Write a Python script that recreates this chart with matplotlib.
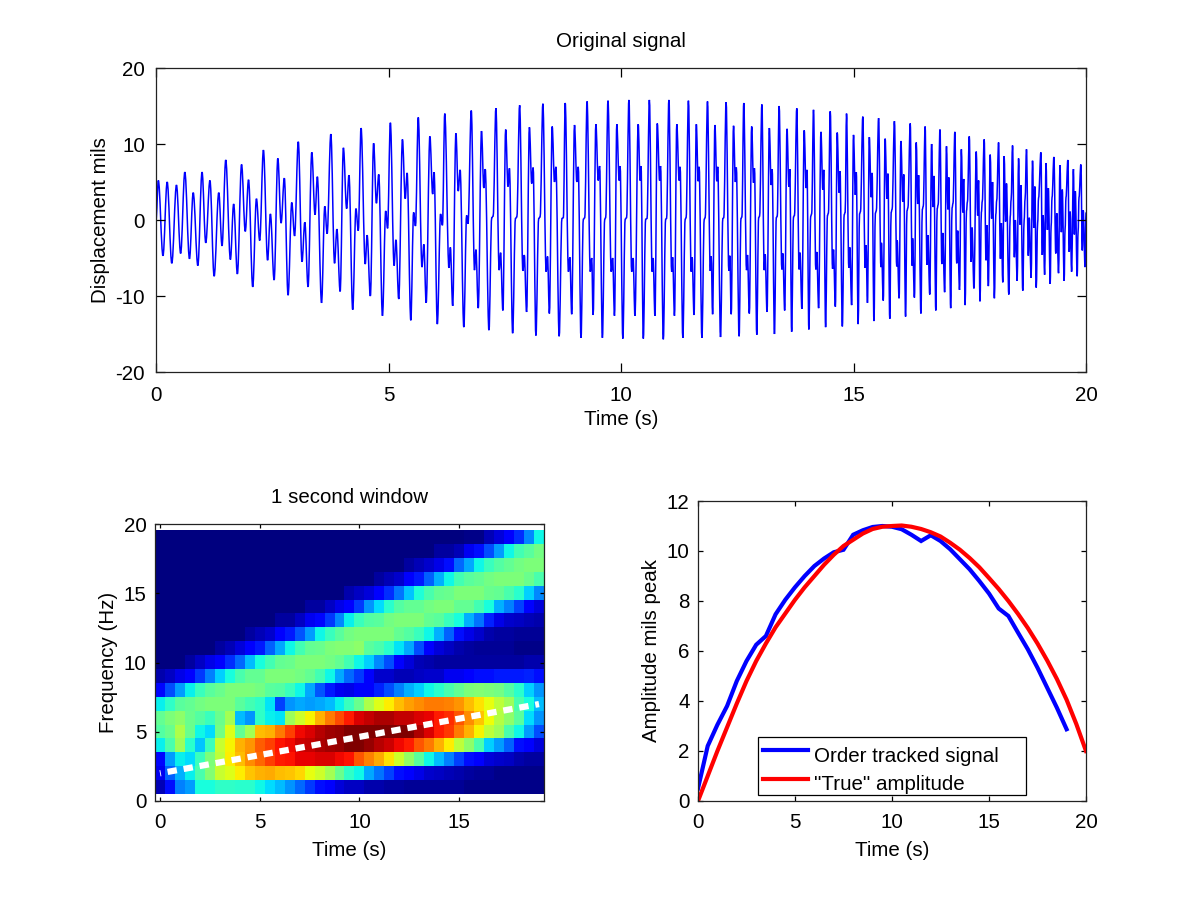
#!/usr/bin/env python3
"""Order tracking figure: raw signal, 1 second window spectrogram, tracked amplitude."""

import matplotlib

matplotlib.use("Agg")
import matplotlib.pyplot as plt
import numpy as np
from matplotlib.patches import PathPatch
from matplotlib.path import Path

plt.rcParams.update(
    {
        "font.family": ["Liberation Sans", "DejaVu Sans"],
        "font.size": 14.8,
        "axes.linewidth": 0.9,
        "axes.edgecolor": "#222222",
        "axes.unicode_minus": False,
        "xtick.direction": "in",
        "ytick.direction": "in",
        "xtick.top": True,
        "ytick.right": True,
        "axes.titlesize": 14.8,
    }
)

# signal turning points, one pair of lists
sig_t = [
    0, .05, .15, .24, .34, .44, .53, .62, .72, .80, .90, .99, 1.07, 1.16, 1.25, 1.35, 1.42, 1.50, 1.60, 1.67,
    1.75, 1.84, 1.92, 1.99, 2.08, 2.16, 2.23, 2.31, 2.40, 2.46, 2.54, 2.62, 2.69, 2.76, 2.84, 2.92, 2.98, 3.06,
    3.14, 3.20, 3.27, 3.35, 3.42, 3.47, 3.56, 3.63, 3.68, 3.76, 3.84, 3.89, 3.96, 4.03, 4.10, 4.15, 4.23, 4.30,
    4.35, 4.41, 4.50, 4.54, 4.61, 4.68, 4.74, 4.79, 4.87, 4.94, 4.98, 5.04, 5.12, 5.16, 5.22, 5.30, 5.36, 5.40,
    5.48, 5.54, 5.58, 5.64, 5.72, 5.76, 5.81, 5.89, 5.95, 5.98, 6.05, 6.12, 6.16, 6.21, 6.30, 6.33, 6.38, 6.45,
    6.50, 6.54,
    6.62, 6.68, 6.71, 6.78, 6.85, 6.88, 6.93, 7.00, 7.05, 7.08,
    7.16, 7.22, 7.25, 7.31, 7.38, 7.41, 7.46, 7.52, 7.57, 7.60,
    7.67, 7.73, 7.76, 7.82, 7.89, 7.92, 7.97, 8.03, 8.08, 8.11,
    8.17, 8.23, 8.26, 8.32, 8.39, 8.42, 8.46, 8.52, 8.57, 8.60,
    8.67, 8.73, 8.76, 8.80, 8.87, 8.90, 8.94, 9.00, 9.05, 9.08,
    9.14, 9.19, 9.22, 9.27, 9.34, 9.37, 9.40, 9.46, 9.51, 9.54,
    9.60, 9.65, 9.67, 9.72, 9.79, 9.82, 9.86, 9.91, 9.96, 9.98,
    10.04, 10.09, 10.12, 10.17, 10.23, 10.26, 10.30, 10.37, 10.41, 10.43,
    10.48, 10.53, 10.56, 10.61, 10.67, 10.69, 10.73, 10.78, 10.83, 10.85,
    10.91, 10.96, 10.98, 11.03, 11.09, 11.11, 11.15, 11.20, 11.25, 11.27,
    11.33, 11.38, 11.40, 11.45, 11.51, 11.53, 11.57, 11.62, 11.66, 11.68,
    11.74, 11.79, 11.81, 11.86, 11.92, 11.94, 11.97, 12.02, 12.06, 12.08,
    12.14, 12.19, 12.21, 12.26, 12.32, 12.34, 12.37, 12.42, 12.46, 12.48,
    12.54, 12.58, 12.60, 12.64, 12.70, 12.72, 12.76, 12.81, 12.85, 12.87,
    12.92, 12.96, 12.98, 13.03, 13.08, 13.10, 13.14, 13.19, 13.23, 13.25,
    13.30, 13.34, 13.36, 13.40, 13.46, 13.48, 13.52, 13.57, 13.61, 13.63,
    13.67, 13.71, 13.73, 13.78, 13.83, 13.85, 13.89, 13.94, 13.98, 14.00,
    14.04, 14.08, 14.10, 14.14, 14.19, 14.21, 14.25, 14.30, 14.34, 14.36,
    14.40, 14.44, 14.46, 14.50, 14.55, 14.57, 14.61, 14.65, 14.69, 14.71,
    14.76, 14.80, 14.82, 14.85, 14.90, 14.92, 14.96, 15.00, 15.04, 15.06,
    15.10, 15.13, 15.15, 15.20, 15.25, 15.27, 15.30, 15.34, 15.38, 15.40,
    15.44, 15.47, 15.49, 15.54, 15.59, 15.60, 15.64, 15.68, 15.72, 15.74,
    15.78, 15.81, 15.83, 15.88, 15.93, 15.94, 15.98, 16.02, 16.06, 16.08,
    16.12, 16.15, 16.17, 16.22, 16.26, 16.27, 16.31, 16.35, 16.38, 16.40,
    16.45, 16.48, 16.50, 16.54, 16.58, 16.60, 16.64, 16.68, 16.71, 16.73,
    16.77, 16.80, 16.82, 16.86, 16.90, 16.92, 16.96, 17.00, 17.03, 17.05,
    17.09, 17.12, 17.14, 17.18, 17.22, 17.24, 17.28, 17.32, 17.35, 17.37,
    17.40, 17.43, 17.45, 17.49, 17.53, 17.55, 17.59, 17.64, 17.67, 17.69,
    17.72, 17.75, 17.77, 17.81, 17.85, 17.87, 17.90, 17.94, 17.97, 17.99,
    18.03, 18.06, 18.08, 18.12, 18.16, 18.18, 18.21, 18.24, 18.27, 18.29,
    18.34, 18.37, 18.39, 18.42, 18.46, 18.48, 18.52, 18.55, 18.58, 18.60,
    18.64, 18.67, 18.69, 18.72, 18.76, 18.78, 18.82, 18.85, 18.88, 18.90,
    18.93, 18.96, 18.98, 19.03, 19.06, 19.08, 19.11, 19.14, 19.17, 19.19,
    19.23, 19.25, 19.27, 19.31, 19.35, 19.37, 19.41, 19.44, 19.47, 19.49,
    19.53, 19.55, 19.57, 19.61, 19.64, 19.66, 19.69, 19.73, 19.75, 19.77,
    19.81, 19.83, 19.85, 19.89, 19.92, 19.94, 19.98, 20.0,
]
sig_v = [
    0, 5.2, -4.7, 5.0, -5.7, 4.6, -4.4, 6.3, -5.1, 3.6, -6.0, 6.3, -3.0, 5.2, -7.4, 3.6, -3.4, 7.9, -5.2, 2.1,
    -7.1, 7.3, -1.5, 5.3, -8.8, 2.8, -2.7, 9.2, -5.3, 0.8, -7.9, 8.1, -0.4, 5.5, -9.9, 2.3, -2.1, 10.3,
    -5.5, -0.3, -8.8, 8.9, 0.7, 5.7, -10.9, 1.8, -1.8, 11.3, -5.7, -1.2, -9.4, 9.5, 1.5, 5.9, -11.8, 1.5,
    -1.4, 12.1, -5.8, -2.0, -10.0, 10.1, 2.2, 6.0, -12.6, 1.2, -1.1, 12.8, -6.0, -2.6, -10.4, 10.6, 2.8, 6.2,
    -13.2, 1.0, -0.8, 13.5, -6.2, -3.2, -10.9, 11.0, 3.4, 6.3, -13.7, 0.8, -0.7, 14.0, -6.3, -3.6, -11.3, 11.4,
    3.8, 6.6,
    -14.1, 0.6, -0.5, 14.4, -6.6, -3.9, -11.6, 11.7, 4.2, 6.7,
    -14.5, 0.3, 0.5, 14.7, -6.6, -4.3, -11.9, 11.9, 4.4, 6.8,
    -14.9, 0.2, 0.4, 15.1, -6.7, -4.6, -12.1, 12.2, 4.8, 6.9,
    -15.2, 0.2, 0.4, 15.3, -6.8, -4.8, -12.3, 12.3, 5.0, 7.0,
    -15.3, 0.2, 0.3, 15.4, -6.8, -4.9, -12.4, 12.5, 5.0, 7.0,
    -15.5, 0.1, 0.3, 15.6, -6.8, -5.0, -12.5, 12.6, 5.2, 7.1,
    -15.5, 0.1, 0.3, 15.7, -6.8, -5.0, -12.6, 12.6, 5.2, 7.1,
    -15.6, 0.1, 0.3, 15.8, -6.8, -5.0, -12.6, 12.6, 5.2, 7.1,
    -15.6, 0.1, 0.2, 15.8, -6.8, -5.0, -12.6, 12.7, 5.2, 7.1,
    -15.7, 0.1, 0.2, 15.8, -6.8, -4.9, -12.6, 12.6, 5.2, 7.0,
    -15.5, 0.1, 0.3, 15.7, -6.8, -4.9, -12.5, 12.6, 5.1, 7.0,
    -15.5, 0.1, 0.3, 15.6, -6.7, -4.8, -12.4, 12.5, 5.1, 7.0,
    -15.4, 0.2, 0.3, 15.5, -6.7, -4.7, -12.4, 12.4, 5.0, 6.9,
    -15.3, 0.2, 0.4, 15.4, -6.6, -4.6, -12.3, 12.3, 4.9, 6.8,
    -15.1, 0.3, 0.5, 15.2, -6.6, -4.5, -12.1, 12.1, 4.6, 6.7,
    -15.0, 0.3, 0.5, 15.0, -6.5, -4.4, -11.9, 12.0, 4.4, 6.7,
    -14.7, 0.4, 0.6, 14.7, -6.5, -4.3, -11.7, 11.8, 4.2, 6.6,
    -14.4, 0.5, 0.8, 14.5, -6.5, -4.2, -11.6, 11.6, 4.0, 6.6,
    -14.1, 0.6, 0.9, 14.3, -6.4, -3.9, -11.4, 11.5, 3.6, 6.4,
    -14.0, 0.7, 1.0, 14.0, -6.3, -3.6, -11.2, 11.2, 3.3, 6.3,
    -13.7, 0.8, 1.1, 13.6, -6.3, -3.3, -10.9, 10.9, 3.0, 6.2,
    -13.3, 0.9, 1.2, 13.4, -6.2, -3.0, -10.6, 10.7, 2.8, 6.1,
    -13.0, 1.0, 1.4, 13.0, -6.1, -2.7, -10.3, 10.4, 2.4, 6.0,
    -12.7, 1.2, 1.6, 12.7, -6.0, -2.4, -10.2, 10.2, 2.1, 5.9,
    -12.3, 1.4, 1.8, 12.3, -5.9, -2.0, -9.8, 10.0, 1.7, 5.8,
    -11.9, 1.5, 2.0, 11.9, -5.8, -1.7, -9.5, 9.7, 1.4, 5.6,
    -11.6, 1.6, 2.2, 11.6, -5.7, -1.4, -9.2, 9.3, 1.0, 5.4,
    -11.2, 1.2, 2.4, 11.0, -5.5, -1.0, -9.0, 9.0, 0.6, 5.2,
    -10.7, 1.0, 2.5, 10.6, -5.3, -0.7, -8.7, 8.6, 0.2, 5.0,
    -10.3, 0.7, 2.6, 10.2, -5.1, -0.4, -8.2, 8.4, -0.2, 4.8,
    -9.8, 0.4, 2.7, 9.8, -4.9, 0.0, -8.0, 8.1, -0.6, 4.6,
    -9.3, 0.0, 2.8, 9.3, -4.7, 0.3, -7.6, 7.8, -1.0, 4.4,
    -8.9, -0.4, 2.9, 8.9, -4.6, 0.6, -7.2, 7.5, -1.3, 4.2,
    -8.4, -0.8, 3.0, 8.3, -4.4, 0.9, -7.0, 7.2, -1.6, 4.0,
    -8.0, -1.2, 3.0, 7.9, -4.2, 1.1, -6.8, 6.7, -1.9, 3.8,
    -7.4, -1.5, 3.0, 7.3, -4.0, 1.3, -6.2, 1.0,
]

# spectrogram, 0 to 100 on the colour scale, lowest frequency row first
spec_rows = [
    [5, 14, 25, 28, 38, 38, 41, 41, 40, 40, 37, 34, 31, 27, 23, 18, 14, 11, 8, 6,
     6, 4, 4, 3, 3, 2, 2, 2, 2, 2, 2, 1, 1, 1, 1, 1, 1, 1, 1],
    [10, 22, 30, 36, 44, 51, 59, 62, 66, 70, 72, 73, 71, 70, 68, 63, 60, 55, 48, 41,
     37, 29, 24, 19, 14, 11, 9, 7, 6, 5, 4, 3, 2, 2, 1, 1, 1, 1, 1],
    [13, 28, 36, 34, 42, 50, 58, 66, 71, 76, 80, 84, 88, 89, 91, 91, 92, 92, 90, 89,
     82, 77, 73, 67, 60, 53, 46, 37, 31, 25, 19, 14, 11, 8, 7, 6, 4, 3, 3],
    [36, 44, 54, 40, 32, 42, 59, 65, 72, 75, 81, 84, 89, 90, 93, 94, 96, 97, 98, 100,
     100, 98, 95, 93, 90, 88, 82, 78, 72, 66, 58, 52, 44, 33, 28, 22, 14, 11, 8],
    [45, 48, 56, 48, 37, 34, 49, 62, 47, 55, 71, 72, 78, 84, 90, 92, 95, 97, 98, 100,
     100, 100, 100, 100, 100, 100, 96, 92, 88, 85, 78, 72, 65, 58, 54, 44, 37, 28, 20],
    [47, 50, 52, 48, 45, 42, 48, 55, 31, 27, 41, 36, 35, 54, 60, 65, 72, 78, 83, 88,
     92, 94, 96, 96, 94, 94, 92, 91, 88, 86, 82, 76, 70, 64, 57, 52, 46, 34, 27],
    [36, 41, 46, 47, 49, 50, 50, 50, 46, 43, 41, 35, 19, 27, 29, 28, 29, 31, 36, 42,
     48, 56, 62, 66, 71, 74, 76, 78, 78, 77, 75, 71, 67, 63, 58, 54, 44, 38, 31],
    [13, 20, 28, 36, 42, 46, 48, 50, 50, 50, 49, 46, 45, 42, 37, 29, 21, 15, 10, 9,
     11, 11, 16, 20, 25, 30, 33, 37, 40, 44, 47, 50, 51, 50, 49, 45, 40, 33, 27],
    [4, 6, 9, 12, 18, 25, 33, 38, 44, 47, 47, 50, 50, 50, 49, 47, 43, 37, 29, 23,
     18, 11, 7, 7, 5, 5, 6, 7, 7, 10, 10, 12, 14, 14, 15, 15, 15, 16, 14],
    [0, 0, 0, 3, 6, 9, 12, 17, 23, 31, 38, 43, 47, 48, 50, 50, 50, 49, 47, 43,
     37, 33, 26, 20, 11, 8, 5, 4, 3, 3, 3, 3, 3, 3, 3, 3, 3, 4, 4],
    [0, 0, 0, 0, 0, 0, 3, 5, 8, 11, 15, 22, 29, 37, 43, 47, 48, 50, 51, 51,
     52, 46, 44, 40, 35, 29, 20, 11, 8, 6, 4, 3, 2, 2, 2, 2, 1, 1, 1],
    [0, 0, 0, 0, 0, 0, 0, 0, 0, 3, 5, 7, 11, 15, 21, 28, 37, 42, 46, 49,
     50, 50, 50, 50, 47, 45, 42, 37, 30, 22, 14, 9, 7, 4, 3, 3, 2, 2, 2],
    [0, 0, 0, 0, 0, 0, 0, 0, 0, 0, 0, 0, 3, 3, 6, 10, 13, 18, 26, 36,
     42, 45, 46, 49, 50, 50, 50, 47, 46, 42, 38, 30, 24, 16, 9, 7, 6, 5, 4],
    [0, 0, 0, 0, 0, 0, 0, 0, 0, 0, 0, 0, 0, 0, 0, 3, 3, 6, 9, 12,
     18, 27, 34, 40, 45, 47, 47, 49, 50, 50, 47, 47, 43, 38, 30, 25, 19, 12, 8],
    [0, 0, 0, 0, 0, 0, 0, 0, 0, 0, 0, 0, 0, 0, 0, 0, 0, 0, 0, 4,
     6, 8, 12, 17, 24, 32, 39, 44, 47, 48, 50, 50, 50, 48, 47, 44, 40, 33, 26],
    [0, 0, 0, 0, 0, 0, 0, 0, 0, 0, 0, 0, 0, 0, 0, 0, 0, 0, 0, 0,
     0, 0, 3, 5, 7, 11, 15, 22, 30, 37, 43, 46, 47, 49, 50, 50, 50, 48, 44],
    [0, 0, 0, 0, 0, 0, 0, 0, 0, 0, 0, 0, 0, 0, 0, 0, 0, 0, 0, 0,
     0, 0, 0, 0, 0, 3, 5, 7, 9, 14, 23, 29, 37, 42, 45, 47, 49, 50, 50],
    [0, 0, 0, 0, 0, 0, 0, 0, 0, 0, 0, 0, 0, 0, 0, 0, 0, 0, 0, 0,
     0, 0, 0, 0, 0, 0, 0, 0, 3, 3, 5, 10, 14, 20, 28, 37, 43, 46, 49],
    [0, 0, 0, 0, 0, 0, 0, 0, 0, 0, 0, 0, 0, 0, 0, 0, 0, 0, 0, 0,
     0, 0, 0, 0, 0, 0, 0, 0, 0, 0, 0, 1, 1, 5, 8, 11, 17, 26, 37],
]

# dashed white speed line over the spectrogram
speed_t = [0, 19]
speed_f = [2, 7]

tracked_t = [
    0, .5, 1, 1.5, 2, 2.5, 3, 3.5, 4, 4.5, 5, 5.5, 6, 6.5, 7, 7.5, 8, 8.5, 9, 9.5,
    10, 10.5, 11, 11.5, 12, 12.5, 13, 13.5, 14, 14.5, 15, 15.5, 16, 16.5, 17, 17.5, 18, 18.5, 19,
]
tracked_amp = [
    0.5, 2.2, 3.05, 3.8, 4.8, 5.6, 6.25, 6.6, 7.47, 8.05, 8.55, 9.0, 9.4, 9.7, 9.95, 10.05, 10.65, 10.83, 10.96, 11.0,
    10.97, 10.87, 10.65, 10.4, 10.63, 10.4, 10.07, 9.67, 9.27, 8.8, 8.3, 7.7, 7.4, 6.73, 6.07, 5.33, 4.53, 3.73, 2.87,
]
true_t = [
    0, .5, 1, 1.5, 2, 2.5, 3, 3.5, 4, 4.5, 5, 5.5, 6, 6.5, 7, 7.5, 8, 8.5, 9, 9.5, 10,
    10.5, 11, 11.5, 12, 12.5, 13, 13.5, 14, 14.5, 15, 15.5, 16, 16.5, 17, 17.5, 18, 18.5, 19, 19.5, 20,
]
true_amp = [
    0, 1.0, 2.0, 2.95, 3.9, 4.8, 5.6, 6.3, 6.95, 7.5, 8.05, 8.55, 9.0, 9.45, 9.85, 10.2, 10.45, 10.7, 10.88, 10.97, 11.0,
    11.02, 10.97, 10.88, 10.75, 10.58, 10.33, 10.05, 9.72, 9.35, 8.92, 8.48, 8.0, 7.48, 6.92, 6.3, 5.62, 4.88, 4.05, 3.08, 2.0,
]

W, H = 1200, 900


def px_axes(fig, left, top, right, bottom):
    return fig.add_axes([left / W, 1 - bottom / H, (right - left) / W, (bottom - top) / H])


def rounded_path(ts, vs):
    # flat tangents at every turning point, so the peaks come out round
    verts = [(ts[0], vs[0])]
    codes = [Path.MOVETO]
    for t0, v0, t1, v1 in zip(ts[:-1], vs[:-1], ts[1:], vs[1:]):
        dt = t1 - t0
        verts += [(t0 + 0.36 * dt, v0), (t1 - 0.36 * dt, v1), (t1, v1)]
        codes += [Path.CURVE4] * 3
    return Path(verts, codes)


def main():
    fig = plt.figure(figsize=(W / 100, H / 100), dpi=100)

    ax = px_axes(fig, 156, 68, 1086, 372)
    ax.add_patch(PathPatch(rounded_path(sig_t, sig_v), facecolor="none", edgecolor="#0000ff", lw=1.1))
    ax.set_xlim(0, 20)
    ax.set_ylim(-20, 20)
    ax.set_xticks([0, 5, 10, 15, 20])
    ax.set_yticks([-20, -10, 0, 10, 20])
    ax.tick_params(length=6.5, width=0.9)
    ax.tick_params(axis="x", pad=10)
    ax.tick_params(axis="y", pad=8)
    ax.set_xlabel("Time (s)", labelpad=4)
    ax.set_ylabel("Displacement mils", labelpad=4)
    ax.set_title("Original signal", pad=15)

    ax = px_axes(fig, 155, 524, 544, 801)
    spec = np.array(spec_rows)
    ax.imshow(
        spec,
        cmap="jet",
        vmin=0,
        vmax=100,
        origin="lower",
        aspect="auto",
        interpolation="nearest",
        extent=(-0.25, 19.25, 0.5, 19.5),
    )
    ax.plot(speed_t, speed_f, color="white", lw=4.5, linestyle=(1.36, (1.5, 1.1)), dash_capstyle="butt")
    ax.set_xlim(-0.25, 19.25)
    ax.set_ylim(0, 20)
    ax.set_xticks([0, 5, 10, 15])
    ax.set_yticks([0, 5, 10, 15, 20])
    ax.tick_params(length=3, width=0.9)
    ax.tick_params(axis="x", pad=9)
    ax.tick_params(axis="y", pad=6)
    ax.set_xlabel("Time (s)", labelpad=6)
    ax.set_ylabel("Frequency (Hz)", labelpad=4)
    ax.set_title("1 second window", pad=15)

    ax = px_axes(fig, 698, 501, 1086, 801)
    ax.plot(tracked_t, tracked_amp, color="#0000ff", lw=3, label="Order tracked signal", solid_joinstyle="miter")
    ax.plot(true_t, true_amp, color="#ff0000", lw=3, label='"True" amplitude')
    ax.set_xlim(0, 20)
    ax.set_ylim(0, 12)
    ax.set_xticks([0, 5, 10, 15, 20])
    ax.set_yticks([0, 2, 4, 6, 8, 10, 12])
    ax.tick_params(length=3.5, width=0.9)
    ax.tick_params(axis="x", pad=9)
    ax.tick_params(axis="y", pad=6)
    ax.set_xlabel("Time (s)", labelpad=6)
    ax.set_ylabel("Amplitude mils peak", labelpad=4)
    leg = ax.legend(
        loc="lower left",
        bbox_to_anchor=((758 - 698) / 388, (801 - 795) / 300, (1026 - 758) / 388, (795 - 737) / 300),
        mode="expand",
        borderaxespad=0,
        fancybox=False,
        framealpha=1,
        edgecolor="black",
        handlelength=2.2,
        handletextpad=0.25,
        labelspacing=0.45,
        borderpad=0.25,
        fontsize=14.8,
    )
    leg.get_frame().set_linewidth(0.9)
    for txt in leg.get_texts():
        txt.set_y(-4)

    fig.savefig("out.png", dpi=100)
    plt.close(fig)


if __name__ == "__main__":
    main()
